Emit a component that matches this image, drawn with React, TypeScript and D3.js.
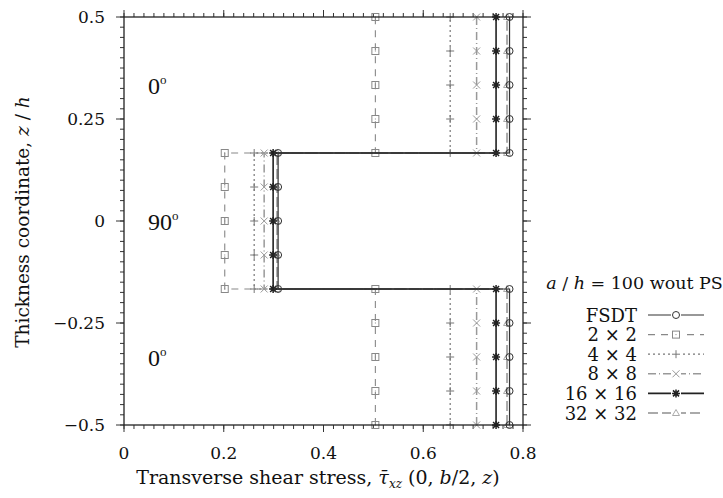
import React, { useEffect } from "react";
import * as d3 from "d3";

const zPoints = [-0.5, -5 / 12, -1 / 3, -0.25, -1 / 6, -1 / 6, -1 / 12, 0, 1 / 12, 1 / 6, 1 / 6, 0.25, 1 / 3, 5 / 12, 0.5];
const fsdt = [0.773, 0.773, 0.773, 0.773, 0.773, 0.309, 0.309, 0.309, 0.309, 0.309, 0.773, 0.773, 0.773, 0.773, 0.773];
const m2x2 = [0.504, 0.504, 0.504, 0.504, 0.504, 0.202, 0.202, 0.202, 0.202, 0.202, 0.504, 0.504, 0.504, 0.504, 0.504];
const m4x4 = [0.654, 0.654, 0.654, 0.654, 0.654, 0.261, 0.261, 0.261, 0.261, 0.261, 0.654, 0.654, 0.654, 0.654, 0.654];
const m8x8 = [0.707, 0.707, 0.707, 0.707, 0.707, 0.281, 0.281, 0.281, 0.281, 0.281, 0.707, 0.707, 0.707, 0.707, 0.707];
const m16x16 = [0.746, 0.746, 0.746, 0.746, 0.746, 0.299, 0.299, 0.299, 0.299, 0.299, 0.746, 0.746, 0.746, 0.746, 0.746];
const m32x32 = [0.768, 0.768, 0.768, 0.768, 0.768, 0.307, 0.307, 0.307, 0.307, 0.307, 0.768, 0.768, 0.768, 0.768, 0.768];

const seriesNames = ["FSDT", "2 × 2", "4 × 4", "8 × 8", "16 × 16", "32 × 32"];
const seriesValues = [fsdt, m2x2, m4x4, m8x8, m16x16, m32x32];
const seriesMarkers = ["circle", "square", "plus", "cross", "star", "triangle"];
const seriesColors = ["#333", "#888", "#777", "#999", "#222", "#aaa"];
const seriesDash = ["", "7,6", "2,3", "8,3,1,3", "", "10,4"];
const seriesWidth = [1.2, 1.1, 1.2, 1.5, 1.6, 2];

const xTicks = [0, 0.2, 0.4, 0.6, 0.8];
const xTickLabels = ["0", "0.2", "0.4", "0.6", "0.8"];
const yTicks = [-0.5, -0.25, 0, 0.25, 0.5];
const yTickLabels = ["−0.5", "−0.25", "0", "0.25", "0.5"];

const layerLabels = ["0", "90", "0"];
const layerZ = [1 / 3, 0, -1 / 3];

const FONT = "'DejaVu Serif', serif";
const LFONT = "'Liberation Serif', serif";

function Marker({ type, x, y, color }: { type: string; x: number; y: number; color: string }) {
  const s = 3.5;
  const common = { fill: "none", stroke: color, strokeWidth: 1 };
  if (type === "circle") return <circle cx={x} cy={y} r={3.5} {...common} />;
  if (type === "square")
    return (
      <g>
        <rect x={x - s} y={y - s} width={2 * s} height={2 * s} {...common} />
        <rect x={x - 0.5} y={y - 0.5} width={1} height={1} fill={color} />
      </g>
    );
  if (type === "plus") return <path d={`M${x - 4},${y}H${x + 4}M${x},${y - 4}V${y + 4}`} {...common} />;
  if (type === "cross") return <path d={`M${x - s},${y - s}L${x + s},${y + s}M${x - s},${y + s}L${x + s},${y - s}`} {...common} />;
  if (type === "star")
    return (
      <path
        d={`M${x - 4},${y}H${x + 4}M${x},${y - 4}V${y + 4}M${x - 3},${y - 3}L${x + 3},${y + 3}M${x - 3},${y + 3}L${x + 3},${y - 3}`}
        {...common}
        strokeWidth={1.5}
      />
    );
  return <path d={`M${x},${y - 3.5}L${x + 3.5},${y + 2.5}L${x - 3.5},${y + 2.5}Z`} {...common} />;
}

export default function App() {
  useEffect(() => {
    document.body.style.margin = "0";
  }, []);
  const W = 723,
    H = 498;
  const x = d3.scaleLinear().domain([0, 0.8]).range([124, 523]);
  const y = d3.scaleLinear().domain([-0.5, 0.5]).range([425, 17]);
  const line = d3
    .line<[number, number]>()
    .x((d) => x(d[0]))
    .y((d) => y(d[1]));

  const xMinor = d3.range(0, 0.8001, 0.02);
  const yMinor = d3.range(-0.5, 0.5001, 0.025);

  const drawOrder = [1, 2, 3, 5, 4, 0];
  const legendX0 = 648,
    legendX1 = 704,
    legendTextX = 637;
  const legendY0 = 315,
    legendDy = 19.6;

  return (
    <svg width={W} height={H} style={{ position: "absolute", left: 0, top: 0, background: "#fff" }} fontFamily={FONT}>
      <rect x={0} y={0} width={W} height={H} fill="#fff" />
      {xMinor.map((t, i) => (
        <g key={"xm" + i} stroke="#333" strokeWidth={1}>
          <line x1={x(t)} x2={x(t)} y1={y(-0.5)} y2={y(-0.5) + 4} />
          <line x1={x(t)} x2={x(t)} y1={y(0.5)} y2={y(0.5) - 4} />
        </g>
      ))}
      {yMinor.map((t, i) => (
        <g key={"ym" + i} stroke="#333" strokeWidth={1}>
          <line x1={x(0)} x2={x(0) - 4} y1={y(t)} y2={y(t)} />
          <line x1={x(0.8)} x2={x(0.8) + 4} y1={y(t)} y2={y(t)} />
        </g>
      ))}
      {xTicks.map((t, i) => (
        <g key={"xt" + i}>
          <line x1={x(t)} x2={x(t)} y1={y(-0.5)} y2={y(-0.5) + 7} stroke="#333" />
          <line x1={x(t)} x2={x(t)} y1={y(0.5)} y2={y(0.5) - 7} stroke="#333" />
          <text x={x(t)} y={459} textAnchor="middle" fontSize={17} fill="#111">
            {xTickLabels[i]}
          </text>
        </g>
      ))}
      {yTicks.map((t, i) => (
        <g key={"yt" + i}>
          <line x1={x(0)} x2={x(0) - 8} y1={y(t)} y2={y(t)} stroke="#333" />
          <line x1={x(0.8)} x2={x(0.8) + 8} y1={y(t)} y2={y(t)} stroke="#333" />
          <text x={105} y={y(t) + 6} textAnchor="end" fontSize={17} fill="#111">
            {yTickLabels[i]}
          </text>
        </g>
      ))}

      {drawOrder.map((si) => {
        const pts: [number, number][] = seriesValues[si].map((v, j) => [v, zPoints[j]]);
        return (
          <g key={"s" + si}>
            <path
              d={line(pts) || ""}
              fill="none"
              stroke={seriesColors[si]}
              strokeWidth={seriesWidth[si]}
              strokeDasharray={seriesDash[si]}
            />
            {pts.map((p, j) => (
              <Marker key={j} type={seriesMarkers[si]} x={x(p[0])} y={y(p[1])} color={seriesColors[si]} />
            ))}
          </g>
        );
      })}

      <rect x={x(0)} y={y(0.5)} width={x(0.8) - x(0)} height={y(-0.5) - y(0.5)} fill="none" stroke="#222" strokeWidth={1.3} />

      {layerLabels.map((l, i) => (
        <text key={"ll" + i} x={148} y={y(layerZ[i]) + 9} fontSize={24} fontFamily={LFONT} fill="#111">
          {l}
          <tspan dy={-10} fontSize={13}>
            o
          </tspan>
        </text>
      ))}

      <text x={318} y={484} textAnchor="middle" fontSize={19} fill="#111">
        Transverse shear stress,{" "}
        <tspan fontStyle="italic">τ̄</tspan>
        <tspan fontStyle="italic" fontSize={12} dy={4}>
          xz
        </tspan>
        <tspan dy={-4}> (0, </tspan>
        <tspan fontStyle="italic">b</tspan>
        <tspan>/2, </tspan>
        <tspan fontStyle="italic">z</tspan>
        <tspan>)</tspan>
      </text>
      <text transform={`translate(29,${222}) rotate(-90)`} textAnchor="middle" fontSize={18.5} fill="#111">
        Thickness coordinate, <tspan fontStyle="italic">z</tspan> / <tspan fontStyle="italic">h</tspan>
      </text>

      <text x={634.5} y={289} textAnchor="middle" fontSize={17.5} fill="#111">
        <tspan fontStyle="italic">a</tspan> / <tspan fontStyle="italic">h</tspan> = 100 wout PS
      </text>
      {seriesNames.map((n, i) => {
        const ly = legendY0 + i * legendDy;
        return (
          <g key={"lg" + i}>
            <text x={legendTextX} y={ly + 6.5} textAnchor="end" fontSize={18} fill="#111">
              {n}
            </text>
            <line
              x1={legendX0}
              x2={legendX1}
              y1={ly}
              y2={ly}
              stroke={seriesColors[i]}
              strokeWidth={seriesWidth[i]}
              strokeDasharray={seriesDash[i]}
            />
            <rect x={(legendX0 + legendX1) / 2 - 5} y={ly - 5} width={10} height={10} fill="#fff" />
            <Marker type={seriesMarkers[i]} x={(legendX0 + legendX1) / 2} y={ly} color={seriesColors[i]} />
          </g>
        );
      })}
    </svg>
  );
}
